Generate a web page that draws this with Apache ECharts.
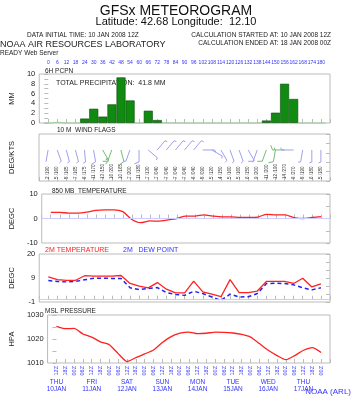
<!DOCTYPE html>
<html>
<head>
<meta charset="utf-8">
<script src="https://cdn.jsdelivr.net/npm/echarts@6/dist/echarts.min.js"></script>
<style>
  html, body { margin: 0; padding: 0; background: #fff; }
  #chart { width: 352px; height: 400px; }
</style>
</head>
<body>
<div id="chart"></div>
<script>
// forecast hours (0 = 10 JAN 2008 12Z)
const hours = [0, 6, 12, 18, 24, 30, 36, 42, 48, 54, 60, 66, 72, 78, 84, 90, 96, 102, 108, 114, 120, 126, 132, 138, 144, 150, 156, 162, 168, 174, 180]
// 6h precipitation (mm)
const pcpn = [0, 0.2, 0, 0, 0.9, 2.9, 1.3, 3.8, 9.3, 4.6, 0, 2.5, 0.6, 0.05, 0, 0, 0, 0, 0, 0, 0, 0, 0, 0, 0.5, 2.1, 8.0, 4.9, 0, 0, 0]
// 850 mb temperature (C)
const t850 = [2.5, 2.5, 2.2, 2.2, 2.6, 3.3, 3.5, 3.5, 2.8, -0.4, -1.7, -1.0, -1.1, -0.6, 0, 1.0, 1.0, 1.5, 1.0, 0.7, 0.7, 0.4, 0.4, 0.6, 1.7, 1.5, 1.5, 0.4, 0, 0.4, 0.8]
// 2m temperature and dew point (C)
const t2m = [10.0, 8.8, 8.5, 8.5, 10.5, 10.3, 10.3, 10.3, 10.6, 7.1, 5.9, 5.2, 7.5, 4.6, 3.0, 3.0, 8.1, 3.4, 2.4, 1.3, 8.8, 3.1, 3.1, 3.8, 8.0, 8.0, 8.0, 7.1, 9.4, 5.6, 6.9]
const dew = [8.4, 8.0, 7.8, 8.0, 8.7, 9.4, 9.4, 9.3, 9.3, 5.2, 4.4, 4.9, 5.3, 3.1, 2.3, 1.9, 3.7, 2.7, 1.2, -0.3, 2.4, 1.2, 1.3, 2.7, 7.1, 7.2, 7.1, 6.5, 5.2, 4.3, 5.2]
// mean sea level pressure (hPa)
const mslp = [1025.3, 1024.3, 1024.4, 1022.1, 1020.8, 1018.8, 1017.6, 1013.9, 1010.6, 1012.2, 1013.8, 1015.4, 1018.5, 1021.0, 1022.4, 1022.9, 1022.2, 1022.4, 1022.9, 1022.8, 1022.5, 1021.9, 1020.8, 1018.1, 1015.3, 1013.1, 1011.4, 1013.1, 1015.3, 1016.4, 1014.4]
// 10 m wind: direction (deg, from) and speed (kt)
const windDir = [190, 160, 165, 165, 175, 170, 150, 200, 165, 200, 180, 130, 40, 40, 40, 40, 40, 90, 120, 150, 160, 160, 150, 200, 200, 190, 270, 270, 190, 180, 180]
const windSpd = [2, 5, 5, 7, 6, 11, 13, 16, 10, 7, 11, 7, 7, 7, 7, 7, 6, 5, 5, 4, 5, 5, 6, 9, 11, 12, 14, 6, 5, 6, 5]
const windGreen = [0, 0, 0, 0, 0, 0, 1, 1, 1, 0, 0, 0, 0, 0, 0, 0, 0, 0, 0, 0, 0, 0, 0, 0, 1, 1, 1, 0, 0, 0, 0]
// day labels at 12Z
const dayNames = { 0: 'THU\n10JAN', 24: 'FRI\n11JAN', 48: 'SAT\n12JAN', 72: 'SUN\n13JAN', 96: 'MON\n14JAN', 120: 'TUE\n15JAN', 144: 'WED\n16JAN', 168: 'THU\n17JAN' }

const FONT = 'Liberation Sans'
const gridTops = [74, 134, 194, 254, 315]
const gridHeights = [49, 47, 49, 48, 48]
const grayLine = '#bbbbbb'
const blue = '#3333ff'

const grids = gridTops.map((t, i) => ({
  left: 37, right: 22, top: t, height: gridHeights[i],
  show: true, borderColor: grayLine, borderWidth: 1
}))

const xAxes = gridTops.map((t, i) => ({
  type: 'value', gridIndex: i, min: -6, max: 186, interval: 6,
  axisLine: { show: false },
  axisTick: { show: true, inside: true, length: 4, lineStyle: { color: grayLine } },
  axisLabel: { show: false },
  splitLine: { show: false }
}))
// top hour labels
xAxes.push({
  type: 'value', gridIndex: 0, min: -6, max: 186, interval: 6, position: 'top', offset: 7,
  axisLine: { show: false }, axisTick: { show: false }, splitLine: { show: false },
  axisLabel: { fontSize: 5, color: blue, fontFamily: FONT, margin: 2,
    formatter: v => (v < 0 || v > 180) ? '' : String(v) }
})
// bottom Z labels
xAxes.push({
  type: 'value', gridIndex: 4, min: -6, max: 186, interval: 6, position: 'bottom',
  axisLine: { show: false }, axisTick: { show: false }, splitLine: { show: false },
  axisLabel: { fontSize: 5.5, color: blue, fontFamily: FONT, rotate: 90, margin: 3,
    formatter: v => (v < 0 || v > 180) ? '' : String((12 + v) % 24).padStart(2, '0') + 'Z' }
})
// bottom day labels
xAxes.push({
  type: 'value', gridIndex: 4, min: -6, max: 186, interval: 6, position: 'bottom', offset: 14,
  axisLine: { show: false }, axisTick: { show: false }, splitLine: { show: false },
  axisLabel: { fontSize: 6.5, color: blue, fontFamily: FONT, lineHeight: 7, margin: 2,
    formatter: v => dayNames[v] || '' }
})

const yLabel = { fontSize: 7.5, color: '#222', fontFamily: FONT, margin: 4 }
const yName = { fontSize: 7.5, color: '#222', fontFamily: FONT }
const yCfg = [
  { min: 0, max: 10, interval: 2, name: 'MM' },
  { min: 0, max: 10, interval: 10, name: 'DEG/KTS', noLabel: true },
  { min: -10, max: 10, interval: 10, name: 'DEGC' },
  { min: -1, max: 20, interval: 10.5, name: 'DEGC' },
  { min: 1010, max: 1030, interval: 10, name: 'HPA' }
]
const yAxes = []
yCfg.forEach((c, i) => {
  yAxes.push({
    type: 'value', gridIndex: i, min: c.min, max: c.max, interval: c.interval,
    name: c.name, nameLocation: 'middle', nameGap: 23, nameTextStyle: yName,
    axisLine: { show: false }, axisTick: { show: false }, splitLine: { show: false },
    axisLabel: c.noLabel ? { show: false } : Object.assign({ formatter: v => String(Math.trunc(v)) }, yLabel)
  })
  yAxes.push({
    type: 'value', gridIndex: i, min: c.min, max: c.max, interval: c.noLabel ? 2 : c.interval / (i === 3 ? 3 : 2),
    position: 'right',
    axisLine: { show: false }, splitLine: { show: false }, axisLabel: { show: false },
    axisTick: { show: true, inside: true, length: 4, lineStyle: { color: grayLine } }
  })
})

const zip = arr => hours.map((h, i) => [h, arr[i]])

function windItem(params, api) {
  const h = api.value(0), dir = api.value(1), spd = api.value(2), g = api.value(3)
  const base = api.coord([h, 6.6])
  const L = 12
  const a = dir * Math.PI / 180
  const tip = [base[0] + Math.sin(a) * L, base[1] - Math.cos(a) * L]
  const color = g ? '#77bb77' : '#a0a0ee'
  const children = [{
    type: 'line', shape: { x1: base[0], y1: base[1], x2: tip[0], y2: tip[1] },
    style: { stroke: color, lineWidth: 1 }
  }]
  let n = Math.round(spd / 5), pos = 0
  while (n > 0) {
    const len = n >= 2 ? 5 : 2.5
    const s = [base[0] + Math.sin(a) * (L - pos), base[1] - Math.cos(a) * (L - pos)]
    const fa = a + Math.PI / 2.6
    children.push({
      type: 'line', shape: { x1: s[0], y1: s[1], x2: s[0] + Math.sin(fa) * len, y2: s[1] - Math.cos(fa) * len },
      style: { stroke: color, lineWidth: 1 }
    })
    n -= 2; pos += 2.5
  }
  const lp = api.coord([h, 0.4])
  children.push({
    type: 'text', x: lp[0], y: lp[1], rotation: Math.PI / 2,
    style: { text: spd + ' /' + String(dir).padStart(3, '0'), fontSize: 4.5, fontFamily: FONT, fill: '#333',
      textAlign: 'left', textVerticalAlign: 'middle' }
  })
  return { type: 'group', children }
}

const texts = [
  { left: 45, top: 68, text: '6H PCPN' },
  { left: 56, top: 80, text: 'TOTAL PRECIPITATION:  41.8 MM', size: 7 },
  { left: 57, top: 127, text: '10 M  WIND FLAGS' },
  { left: 52, top: 188, text: '850 MB  TEMPERATURE' },
  { left: 45, top: 247, text: '2M TEMPERATURE', color: '#ff2020', size: 7 },
  { left: 123, top: 247, text: '2M   DEW POINT', color: blue, size: 7 },
  { left: 45, top: 308, text: 'MSL PRESSURE' },
  { left: 27, top: 32, text: 'DATA INITIAL TIME: 10 JAN 2008 12Z', size: 6.5 },
  { right: 21, top: 32, text: 'CALCULATION STARTED AT: 10 JAN 2008 12Z', size: 6.5, align: 'right' },
  { right: 21, top: 39.5, text: 'CALCULATION ENDED AT: 18 JAN 2008 00Z', size: 6.5, align: 'right' },
  { left: 0, top: 40, text: 'NOAA AIR RESOURCES LABORATORY', size: 9 },
  { left: 0, top: 50, text: 'READY Web Server', size: 6.5 },
  { right: 1, top: 388, text: 'NOAA (ARL)', size: 8, color: blue }
]

const chart = echarts.init(document.getElementById('chart'), null, { renderer: 'canvas' })
chart.setOption({
  animation: false,
  backgroundColor: '#fff',
  title: [
    { text: 'GFSx METEOROGRAM', left: 'center', top: -1, textStyle: { fontFamily: FONT, fontSize: 14, fontWeight: 'normal', color: '#111' } },
    { text: 'Latitude: 42.68 Longitude:  12.10', left: 'center', top: 11, textStyle: { fontFamily: FONT, fontSize: 11, fontWeight: 'normal', color: '#111' } }
  ],
  graphic: texts.map(t => ({
    type: 'text', left: t.left, right: t.right, top: t.top, silent: true,
    style: { text: t.text, fontFamily: FONT, fontSize: t.size || 6.5, fill: t.color || '#222', textAlign: t.align || 'left' }
  })),
  grid: grids,
  xAxis: xAxes,
  yAxis: yAxes,
  series: [
    {
      type: 'bar', xAxisIndex: 0, yAxisIndex: 0, barWidth: 9,
      data: hours.map((h, i) => ({ value: [h, pcpn[i]], itemStyle: { color: pcpn[i] < 0.3 ? '#99cc99' : '#108a10', borderColor: pcpn[i] < 0.3 ? '#99cc99' : '#0a4a0a', borderWidth: 0.6 } }))
    },
    {
      type: 'custom', xAxisIndex: 1, yAxisIndex: 2, renderItem: windItem,
      data: hours.map((h, i) => [h, windDir[i], windSpd[i], windGreen[i]])
    },
    {
      type: 'line', xAxisIndex: 2, yAxisIndex: 4, data: zip(t850), symbol: 'none', smooth: 0.3,
      lineStyle: { color: '#ff2020', width: 1.3 },
      markLine: { silent: true, symbol: 'none', label: { show: false }, lineStyle: { color: '#ccccff', type: 'solid', width: 1 }, data: [{ yAxis: 0 }] }
    },
    {
      type: 'line', xAxisIndex: 3, yAxisIndex: 6, data: zip(dew), symbol: 'none',
      lineStyle: { color: '#2222ee', width: 1.5, type: [4, 3] },
      markLine: { silent: true, symbol: 'none', label: { show: false }, lineStyle: { color: '#ccccff', type: 'solid', width: 1 }, data: [{ yAxis: 0 }] }
    },
    {
      type: 'line', xAxisIndex: 3, yAxisIndex: 6, data: zip(t2m), symbol: 'none',
      lineStyle: { color: '#ff2020', width: 1.3 }
    },
    {
      type: 'line', xAxisIndex: 4, yAxisIndex: 8, data: zip(mslp), symbol: 'none', smooth: 0.2,
      lineStyle: { color: '#ff2020', width: 1.3 }
    }
  ]
})
</script>
</body>
</html>
